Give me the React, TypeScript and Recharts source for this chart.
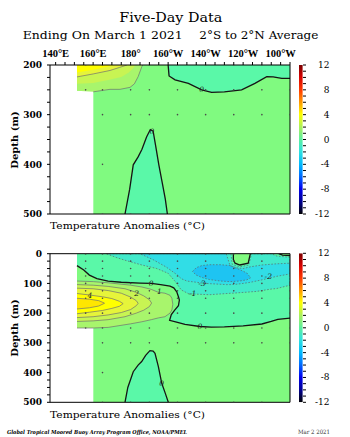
import { ComposedChart, Area, Line, Scatter, Bar, XAxis, YAxis } from 'recharts'

type Pt = [number, number, number] // lon, upper depth, lower depth
type LP = [number, number] // lon, depth
type Lbl = { lon: number; d: number; t: string }

const SERIF = "'DejaVu Serif', serif"
const TIMES = "'Liberation Serif', serif"

const lonTicks = [140, 160, 180, 200, 220, 240, 260]
const lonLabels = ['140°E', '160°E', '180°', '160°W', '140°W', '120°W', '100°W']
const lonMinorTicks = [140, 145, 150, 155, 160, 165, 170, 175, 180, 185, 190, 195, 200, 205, 210, 215, 220, 225, 230, 235, 240, 245, 250, 255, 260, 265]

const topDepthTicks = [200, 225, 250, 275, 300, 325, 350, 375, 400, 425, 450, 475, 500]
const topDepthLabels = [200, 300, 400, 500]
const botDepthTicks = [0, 25, 50, 75, 100, 125, 150, 175, 200, 225, 250, 275, 300, 325, 350, 375, 400, 425, 450, 475, 500]
const botDepthLabels = [0, 100, 200, 300, 400, 500]

const cbLabels = [12, 8, 4, 0, -4, -8, -12]
const cbTicks = [-12, -11, -10, -9, -8, -7, -6, -5, -4, -3, -2, -1, 0, 1, 2, 3, 4, 5, 6, 7, 8, 9, 10, 11, 12]
const cbRange = [{ k: 'anom', v: [-12, 12] }]

// buoy sample positions
const buoyLons = [156, 165, 180, 190, 205, 220, 235, 250, 265]
const buoyDepths = [1, 25, 50, 75, 100, 125, 150, 200, 250, 300, 500]
const extraDots: LP[] = [[165, 400]]

const col = {
  n3: '#1ec4f2',
  n2: '#31dde6',
  n1: '#42eacb',
  n0: '#5af8a8',
  p0: '#80fa80',
  p1: '#a8f56c',
  p2: '#c8f453',
  p3: '#e6f43a',
  p4: '#ffff00',
  p5: '#ffe600',
}

// ---- upper panel (200-500 m)
const topBase: Pt[] = [[151.4, 200, 252], [160.1, 200, 252], [160.1, 200, 500], [265, 200, 500]]
const topNeg0East: Pt[] = [[200, 200, 200], [200.5, 200, 222], [203.7, 200, 230], [210.8, 200, 237], [217.9, 200, 250], [223.2, 200, 255], [230, 200, 254], [239.2, 200, 250], [246.3, 200, 237], [252.6, 200, 223.5], [256, 200, 224], [260.6, 200, 227], [265, 200, 227]]
const topNeg0Deep: Pt[] = [[177, 500, 500], [179.5, 450, 500], [181.4, 401, 500], [184, 385, 500], [186, 370, 500], [188.5, 345, 500], [190.5, 330, 500], [192, 333, 500], [193.4, 364, 500], [195, 400, 500], [196.9, 438, 500], [198.5, 470, 500], [199.6, 500, 500]]
const topPos1: Pt[] = [[151.4, 200, 252], [160.1, 200, 254], [169, 200, 249], [174.3, 200, 249], [179.7, 200, 245], [182, 200, 238], [184, 200, 223.5], [186, 200, 203], [186.5, 200, 200]]
const topPos2: Pt[] = [[151.4, 200, 238], [160, 200, 236], [168, 200, 230], [175, 200, 224], [179, 200, 215], [181.5, 200, 206], [182.5, 200, 200]]
const topPos3: Pt[] = [[151.4, 200, 224], [160, 200, 218], [169, 200, 211], [174, 200, 205], [178, 200, 200]]
const topPos4: Pt[] = [[151.4, 200, 215], [156, 200, 212], [162, 200, 208], [167, 200, 204], [171, 200, 200]]
const topLabels: Lbl[] = [{ lon: 217.9, d: 250, t: '0' }, { lon: 191.4, d: 334, t: '0' }]

// ---- lower panel (0-500 m)
const botBase: Pt[] = [[151.4, 0, 250], [160.1, 0, 250], [160.1, 0, 500], [265, 0, 500]]
const botNeg0West: Pt[] = [[151.4, 0, 40], [155, 0, 55], [158, 0, 72], [162, 0, 84], [168, 0, 92], [175, 0, 96], [185, 0, 99], [191, 0, 100], [196, 0, 104], [201, 0, 109], [203, 0, 115], [204.6, 0, 128], [205.5, 0, 145], [206, 0, 156]]
const botNeg0East: Pt[] = [[200.8, 0, 224], [204, 0, 229], [209, 0, 238], [217, 0, 245], [223, 0, 247], [230, 0, 246.5], [240, 0, 243], [250, 0, 236.5], [255, 0, 228], [258.5, 0, 221], [265, 0, 217]]
const botTongue: Pt[] = [[199, 106, 260], [200.8, 108, 224], [201.7, 109, 205], [203, 115, 195], [203.5, 118, 190], [204.6, 128, 180], [205.5, 145, 175], [206, 156, 156]]
const botNeg0Deep: Pt[] = [[177, 500, 500], [178.5, 450, 500], [181.4, 397, 500], [184, 375, 500], [185.9, 363, 500], [188, 342, 500], [190.3, 326, 500], [192, 328, 500], [193, 335, 500], [194.8, 380, 500], [196.6, 436, 500], [198.5, 470, 500], [200.1, 500, 500]]
const botNeg1: Pt[] = [[167, 0, 0], [172, 0, 12], [177, 0, 22], [186, 0, 38], [194, 0, 50], [200, 0, 66], [204, 0, 95], [207, 0, 122], [211, 0, 135], [222, 0, 138], [233.5, 0, 133], [234.2, 36, 133], [238.3, 44, 131], [243, 38, 129], [244.5, 0, 128], [247, 0, 127], [255, 0, 119], [258, 8, 117], [265, 12, 106]]
const botNeg2: Pt[] = [[185, 0, 0], [192, 0, 20], [199, 0, 45], [205, 0, 72], [207, 0, 84], [210, 0, 92], [220, 0, 100], [231, 0, 104], [233, 40, 104], [236, 47, 103], [240, 50, 100], [244, 44, 96], [250, 38, 88], [258, 34, 76], [265, 32, 68]]
const botNeg3: Pt[] = [[213, 60, 60], [215, 47, 72], [218, 40, 80], [222, 37, 87], [228, 37, 92], [233, 40, 94], [238, 53, 92], [242, 65, 88], [244, 81, 81]]
const botIsland: Pt[] = [[234.8, 0, 20], [235.7, 0, 32], [238.3, 0, 38], [242.7, 0, 32], [243.7, 0, 4], [243.8, 0, 0]]
const botSliver: Pt[] = [[259, 0, 0], [261, 0, 5], [265, 0, 6]]
const botPos1: Pt[] = [[151.4, 92, 250], [160.1, 94, 250], [168, 98, 248], [180, 106, 236], [186, 112, 229], [191, 120, 222], [194.8, 130, 216], [198.3, 133, 212], [201, 140, 200], [202, 150, 189], [202.5, 170, 170]]
const botPos2: Pt[] = [[151.4, 104, 228], [160, 106, 226], [168, 110, 222], [177, 118, 212], [183, 130, 200], [187, 142, 190], [190, 155, 178], [191.2, 166, 166]]
const botPos3: Pt[] = [[151.4, 116, 215], [160, 118, 212], [168, 124, 206], [175, 133, 198], [180, 146, 188], [183, 158, 175], [184, 167, 167]]
const botPos4: Pt[] = [[151.4, 134, 202], [158, 139, 197], [165, 145, 191], [170, 151, 184], [174, 160, 177], [176, 168, 168]]
const botPos5: Pt[] = [[151.4, 150, 186], [158, 153, 182], [163, 158, 176], [166, 166, 167]]
const botZero: LP[] = [[151.4, 40], [155, 55], [158, 72], [162, 84], [168, 92], [175, 96], [185, 99], [191, 100], [196, 104], [201, 109], [203, 115], [204.6, 128], [205.5, 145], [206, 156], [205.5, 175], [203.5, 190], [201.7, 205], [200.8, 224], [204, 229], [209, 238], [217, 245], [223, 247], [230, 246.5], [240, 243], [250, 236.5], [255, 228], [258.5, 221], [265, 217]]
const botLabels: Lbl[] = [
  { lon: 191, d: 100, t: '0' },
  { lon: 195.3, d: 128, t: '1' },
  { lon: 183.2, d: 133, t: '2' },
  { lon: 158.3, d: 140, t: '4' },
  { lon: 213, d: 134, t: '-1' },
  { lon: 218, d: 99, t: '-3' },
  { lon: 253.4, d: 77, t: '-2' },
  { lon: 217, d: 246, t: '0' },
  { lon: 196.6, d: 436, t: '0' },
]

const tops = (p: Pt[]): LP[] => p.map(([x, t]) => [x, t])
const bottoms = (p: Pt[]): LP[] => p.map(([x, , b]) => [x, b])
const loop = (p: Pt[]): LP[] => [...tops(p), ...bottoms(p).reverse()]

type Band = { pts: Pt[]; fill: string }
type Contour = { pts: LP[]; kind: 'zero' | 'pos' | 'neg' }

const lineStyle = {
  zero: { stroke: '#151515', strokeWidth: 1.3, strokeDasharray: undefined },
  pos: { stroke: '#707070', strokeWidth: 0.7, strokeDasharray: undefined },
  neg: { stroke: '#5a6a6a', strokeWidth: 0.7, strokeDasharray: '1.6 1.6' },
}

function buoyDots(minDepth: number): { lon: number; d: number }[] {
  const out: { lon: number; d: number }[] = []
  buoyLons.forEach((lon) => {
    buoyDepths.forEach((d) => {
      if (d < minDepth) return
      if (lon === 156 && d > 250) return
      out.push({ lon, d })
    })
  })
  extraDots.forEach(([lon, d]) => out.push({ lon, d }))
  return out
}

const fmtLon = (v: number) => {
  const i = lonTicks.indexOf(v)
  return i >= 0 ? lonLabels[i] : ''
}

interface PanelProps {
  top: number
  height: number
  plotTop: number
  plotBottom: number
  topAxisH: number
  showLonLabels: boolean
  depthDomain: [number, number]
  depthTicks: number[]
  depthLabels: number[]
  bands: Band[]
  contours: Contour[]
  labels: Lbl[]
  minDotDepth: number
}

function Panel(p: PanelProps) {
  const tickFont = { fontSize: 9, fontFamily: SERIF, fontWeight: 700, fill: '#000' }
  const lonFont = { fontSize: 10.5, fontFamily: TIMES, fontWeight: 700, fill: '#000' }
  return (
    <div style={{ position: 'absolute', left: 0, top: p.top, width: 350, height: p.height }}>
      <ComposedChart width={350} height={p.height} margin={{ top: p.plotTop - p.topAxisH, right: 0, bottom: 0, left: 0 }}>
        <XAxis xAxisId="b" dataKey="lon" type="number" domain={[137, 265]} allowDataOverflow ticks={lonMinorTicks} interval={0}
          tick={false} tickSize={3} height={p.height - p.plotBottom} stroke="#000" />
        <XAxis xAxisId="t" orientation="top" dataKey="lon" type="number" domain={[137, 265]} allowDataOverflow ticks={lonMinorTicks} interval={0}
          tick={p.showLonLabels ? lonFont : false} tickFormatter={fmtLon} tickSize={3} tickMargin={5} height={p.topAxisH} stroke="#000" />
        <YAxis yAxisId="l" dataKey="d" type="number" domain={p.depthDomain} reversed allowDataOverflow ticks={p.depthTicks} interval={0}
          tickFormatter={(v: number) => (p.depthLabels.includes(v) ? String(v) : '')} tick={tickFont} tickSize={3} tickMargin={5} width={50} stroke="#000" />
        <YAxis yAxisId="r" orientation="right" dataKey="d" type="number" domain={p.depthDomain} reversed allowDataOverflow ticks={p.depthTicks} interval={0}
          tick={false} tickSize={3} width={60} stroke="#000" />
        {p.bands.map((b, i) => (
          <Area key={'a' + i} xAxisId="b" yAxisId="l" data={b.pts.map(([lon, t, d]) => ({ lon, r: [t, d] }))} dataKey="r" type="linear"
            stroke="none" fill={b.fill} fillOpacity={1} dot={false} activeDot={false} isAnimationActive={false} />
        ))}
        {p.contours.map((c, i) => (
          <Line key={'l' + i} xAxisId="b" yAxisId="l" data={c.pts.map(([lon, d]) => ({ lon, d }))} dataKey="d" type="linear"
            {...lineStyle[c.kind]} dot={false} activeDot={false} isAnimationActive={false} />
        ))}
        <Scatter xAxisId="b" yAxisId="l" data={buoyDots(p.minDotDepth)} isAnimationActive={false}
          shape={(s: any) => <circle cx={s.cx} cy={s.cy} r={0.8} fill="#4a4a4a" />} />
        <Scatter xAxisId="b" yAxisId="l" data={p.labels} isAnimationActive={false}
          shape={(s: any) => (
            <text x={s.cx} y={s.cy} textAnchor="middle" dominantBaseline="central" fontSize={7.5} fontStyle="italic" fontFamily={SERIF} fill="#222">
              {s.payload.t}
            </text>
          )} />
      </ComposedChart>
    </div>
  )
}

function CbTick(props: any) {
  const { x, y, payload } = props
  if (!cbLabels.includes(payload.value)) return null
  return (
    <text x={x + 21.5} y={y} textAnchor="end" dominantBaseline="central" fontSize={9} fontFamily={SERIF} fill="#000">
      {String(payload.value)}
    </text>
  )
}

function ColorBar({ top, height, plotTop, plotBottom, id }: { top: number; height: number; plotTop: number; plotBottom: number; id: string }) {
  return (
    <div style={{ position: 'absolute', left: 0, top, width: 350, height }}>
      <ComposedChart width={350} height={height} data={cbRange} barCategoryGap={0}
        margin={{ top: plotTop, right: 0, bottom: height - plotBottom, left: 299 }}>
        <defs>
          <linearGradient id={id} x1="0" y1="0" x2="0" y2="1">
            <stop offset="0%" stopColor="#7a0000" />
            <stop offset="8%" stopColor="#d80000" />
            <stop offset="17%" stopColor="#ff3c00" />
            <stop offset="25%" stopColor="#ff9a00" />
            <stop offset="33%" stopColor="#ffff00" />
            <stop offset="42%" stopColor="#a8f060" />
            <stop offset="50%" stopColor="#5cf0a0" />
            <stop offset="58%" stopColor="#30e2e0" />
            <stop offset="67%" stopColor="#00b8ff" />
            <stop offset="75%" stopColor="#0068ff" />
            <stop offset="83%" stopColor="#0000f0" />
            <stop offset="92%" stopColor="#000090" />
            <stop offset="100%" stopColor="#000000" />
          </linearGradient>
        </defs>
        <XAxis dataKey="k" type="category" hide />
        <YAxis orientation="right" type="number" domain={[-12, 12]} allowDataOverflow ticks={cbTicks} interval={0} width={47}
          tickSize={3} tickMargin={2} axisLine={false} stroke="#000" tick={<CbTick />} />
        <Bar dataKey="v" fill={`url(#${id})`} barSize={4} isAnimationActive={false} />
      </ComposedChart>
    </div>
  )
}

export default function App() {
  const topBands: Band[] = [
    { pts: topBase, fill: col.p0 },
    { pts: topNeg0East, fill: col.n0 },
    { pts: topNeg0Deep, fill: col.n0 },
    { pts: topPos1, fill: col.p1 },
    { pts: topPos2, fill: col.p2 },
    { pts: topPos3, fill: col.p3 },
    { pts: topPos4, fill: col.p4 },
  ]
  const topContours: Contour[] = [
    { pts: bottoms(topNeg0East), kind: 'zero' },
    { pts: tops(topNeg0Deep), kind: 'zero' },
    { pts: bottoms(topPos1).slice(1), kind: 'pos' },
    { pts: bottoms(topPos3), kind: 'pos' },
  ]
  const botBands: Band[] = [
    { pts: botBase, fill: col.p0 },
    { pts: botNeg0West, fill: col.n0 },
    { pts: botNeg0East, fill: col.n0 },
    { pts: botTongue, fill: col.p0 },
    { pts: botNeg0Deep, fill: col.n0 },
    { pts: botNeg1, fill: col.n1 },
    { pts: botNeg2, fill: col.n2 },
    { pts: botNeg3, fill: col.n3 },
    { pts: botIsland, fill: col.p0 },
    { pts: botSliver, fill: col.p0 },
    { pts: botPos1, fill: col.p1 },
    { pts: botPos2, fill: col.p2 },
    { pts: botPos3, fill: col.p3 },
    { pts: botPos4, fill: col.p4 },
    { pts: botPos5, fill: col.p5 },
  ]
  const botContours: Contour[] = [
    { pts: loop(botNeg1), kind: 'neg' },
    { pts: loop(botNeg2), kind: 'neg' },
    { pts: loop(botNeg3), kind: 'neg' },
    { pts: loop(botPos1), kind: 'pos' },
    { pts: loop(botPos2), kind: 'pos' },
    { pts: loop(botPos3), kind: 'pos' },
    { pts: loop(botPos4), kind: 'pos' },
    { pts: loop(botPos5), kind: 'pos' },
    { pts: botZero, kind: 'zero' },
    { pts: tops(botNeg0Deep), kind: 'zero' },
    { pts: [[234.8, 0], ...bottoms(botIsland)], kind: 'zero' },
    { pts: bottoms(botSliver), kind: 'zero' },
  ]

  return (
    <div style={{ position: 'absolute', left: 0, top: 0, width: 350, height: 437, background: '#fff', overflow: 'hidden' }}>
      <svg width={350} height={437} style={{ position: 'absolute', left: 0, top: 0 }}>
        <g fontFamily={SERIF} fill="#000">
          <text x={119.3} y={21.7} fontSize={12.5} textLength={103} lengthAdjust="spacingAndGlyphs">Five-Day Data</text>
          <text x={22.7} y={39} fontSize={11.5} textLength={160} lengthAdjust="spacingAndGlyphs">Ending On March 1 2021</text>
          <text x={199.3} y={39} fontSize={11.5} textLength={119} lengthAdjust="spacingAndGlyphs">2°S to 2°N Average</text>
          <text transform="translate(17.5,140) rotate(-90)" textAnchor="middle" fontSize={10} fontWeight={700}>Depth (m)</text>
          <text transform="translate(17.5,328) rotate(-90)" textAnchor="middle" fontSize={10} fontWeight={700}>Depth (m)</text>
          <text x={50} y={228.5} fontSize={10} textLength={155} lengthAdjust="spacingAndGlyphs">Temperature Anomalies (°C)</text>
          <text x={50} y={418} fontSize={10} textLength={155} lengthAdjust="spacingAndGlyphs">Temperature Anomalies (°C)</text>
          <text x={7} y={433.5} fontSize={5.5} fontWeight={700} fontStyle="italic" textLength={180} lengthAdjust="spacingAndGlyphs">
            Global Tropical Moored Buoy Array Program Office, NOAA/PMEL
          </text>
          <text x={298} y={434} fontSize={6} textLength={32} lengthAdjust="spacingAndGlyphs" fill="#333">Mar  2 2021</text>
        </g>
      </svg>
      <Panel top={0} height={222} plotTop={65} plotBottom={214} topAxisH={20} showLonLabels
        depthDomain={[200, 500]} depthTicks={topDepthTicks} depthLabels={topDepthLabels}
        bands={topBands} contours={topContours} labels={topLabels} minDotDepth={200} />
      <ColorBar id="cbTop" top={0} height={222} plotTop={65} plotBottom={214} />
      <Panel top={230} height={180} plotTop={23.7} plotBottom={172.3} topAxisH={5} showLonLabels={false}
        depthDomain={[0, 500]} depthTicks={botDepthTicks} depthLabels={botDepthLabels}
        bands={botBands} contours={botContours} labels={botLabels} minDotDepth={0} />
      <ColorBar id="cbBot" top={230} height={180} plotTop={23.3} plotBottom={172.3} />
    </div>
  )
}
